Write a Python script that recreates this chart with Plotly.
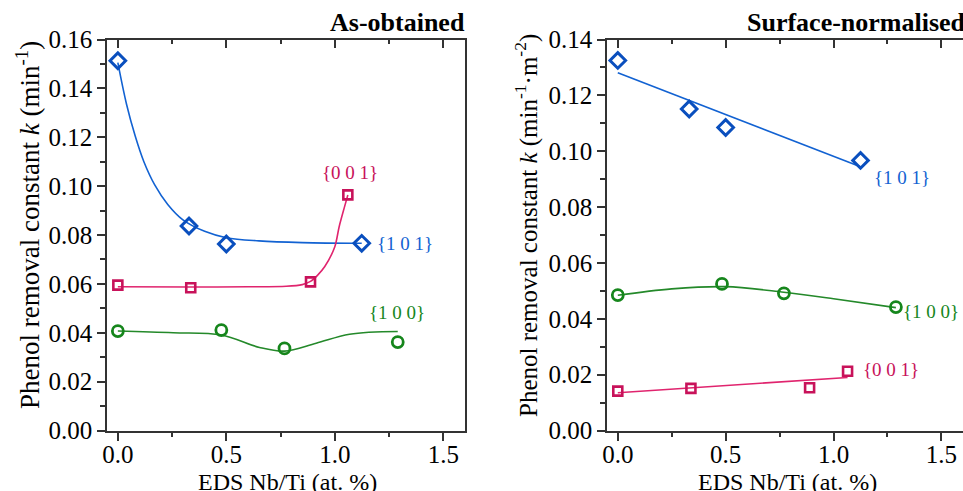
import plotly.graph_objects as go

# ---------------- data ----------------
# As-obtained panel
a101_x = [0.0, 0.328, 0.50, 1.124]
a101_y = [0.1513, 0.0837, 0.0763, 0.0766]
a001_x = [0.0, 0.336, 0.888, 1.06]
a001_y = [0.0595, 0.0584, 0.0608, 0.0964]
a100_x = [0.0, 0.477, 0.768, 1.29]
a100_y = [0.0407, 0.0411, 0.0336, 0.0362]

# fitted curves
a101_fit_x = [0.0, 0.04, 0.08, 0.12, 0.17, 0.23, 0.30, 0.40, 0.50, 0.65, 0.85, 1.124]
a101_fit_y = [0.1505, 0.1335, 0.1205, 0.1100, 0.1005, 0.0925, 0.0862, 0.0815, 0.0789, 0.0776, 0.0769, 0.0766]
a001_fit_x = [0.0, 0.336, 0.60, 0.776, 0.85, 0.888, 0.92, 0.953, 1.0, 1.02, 1.045, 1.06]
a001_fit_y = [0.0588, 0.0587, 0.0588, 0.0590, 0.0597, 0.0610, 0.0635, 0.067, 0.0752, 0.0834, 0.0916, 0.0964]
a100_fit_x = [0.0, 0.255, 0.477, 0.653, 0.768, 0.914, 1.068, 1.29]
a100_fit_y = [0.0407, 0.0400, 0.0391, 0.0340, 0.0325, 0.0357, 0.0394, 0.0405]

# Surface-normalised panel
s101_x = [0.0, 0.331, 0.50, 1.125]
s101_y = [0.1325, 0.1151, 0.1085, 0.0967]
s100_x = [0.0, 0.483, 0.770, 1.289]
s100_y = [0.0485, 0.0525, 0.0491, 0.0442]
s001_x = [0.0, 0.339, 0.889, 1.065]
s001_y = [0.0141, 0.0151, 0.0153, 0.0212]

s101_fit_x = [0.0, 1.125]
s101_fit_y = [0.1281, 0.0944]
s100_fit_x = [0.0, 0.25, 0.5, 0.77, 1.0, 1.289]
s100_fit_y = [0.0484, 0.0507, 0.0515, 0.0495, 0.0472, 0.0440]
s001_fit_x = [0.0, 1.065]
s001_fit_y = [0.0135, 0.0190]

x_ticks = [0.0, 0.5, 1.0, 1.5]
x_tick_text = ["0.0", "0.5", "1.0", "1.5"]
left_y_ticks = [0.00, 0.02, 0.04, 0.06, 0.08, 0.10, 0.12, 0.14, 0.16]
right_y_ticks = [0.00, 0.02, 0.04, 0.06, 0.08, 0.10, 0.12, 0.14]

facet_labels = ["{1 0 1}", "{0 0 1}", "{1 0 0}"]
panel_titles = ["As-obtained", "Surface-normalised"]
x_title = "EDS Nb/Ti (at. %)"
left_y_title = "Phenol removal constant <i>k</i> (min<sup>-1</sup>)"
right_y_title = "Phenol removal constant <i>k</i> (min<sup>-1</sup>·m<sup>-2</sup>)"

# ---------------- styles ----------------
BLUE = "#0A4FBE"
BLUE_L = "#1262D2"
PINK = "#C8125A"
PINK_L = "#E0246E"
GREEN = "#16861C"
GREEN_L = "#24892A"
FONT = "'Liberation Serif', 'Times New Roman', 'DejaVu Serif', serif"
W, H = 963, 491

fig = go.Figure()


def add_series(xs, ys, fx, fy, mcol, lcol, sym, size, lw, xa, ya, smooth=1.0):
    fig.add_trace(go.Scatter(x=fx, y=fy, mode="lines",
                             line=dict(color=lcol, width=1.6, shape="spline" if len(fx) > 2 else "linear",
                                       smoothing=smooth),
                             xaxis=xa, yaxis=ya, showlegend=False, hoverinfo="skip"))
    fig.add_trace(go.Scatter(x=xs, y=ys, mode="markers",
                             marker=dict(symbol=sym, size=size, color="rgba(0,0,0,0)",
                                         line=dict(color=mcol, width=lw)),
                             xaxis=xa, yaxis=ya, showlegend=False))


add_series(a101_x, a101_y, a101_fit_x, a101_fit_y, BLUE, BLUE_L, "diamond", 12, 3, "x", "y")
add_series(a001_x, a001_y, a001_fit_x, a001_fit_y, PINK, PINK_L, "square", 9, 2.6, "x", "y", 0.8)
add_series(a100_x, a100_y, a100_fit_x, a100_fit_y, GREEN, GREEN_L, "circle", 11, 2.8, "x", "y")

add_series(s101_x, s101_y, s101_fit_x, s101_fit_y, BLUE, BLUE_L, "diamond", 12, 3, "x2", "y2")
add_series(s100_x, s100_y, s100_fit_x, s100_fit_y, GREEN, GREEN_L, "circle", 11, 2.8, "x2", "y2")
add_series(s001_x, s001_y, s001_fit_x, s001_fit_y, PINK, PINK_L, "square", 9, 2.6, "x2", "y2")

# ---------------- axes ----------------
ydom = [60.5 / H, 451.5 / H]
xdom1 = [107 / W, 465 / W]
xdom2 = [607 / W, 1.0]
AX = "#333333"
tickfont = dict(family=FONT, size=25, color="black")

common_x = dict(range=[-0.05, 1.6], tickvals=x_ticks, ticktext=x_tick_text, automargin=False,
                ticks="outside", ticklen=9, tickwidth=1.5, tickcolor=AX, ticklabelstandoff=-8,
                showline=True, linecolor=AX, linewidth=1.5, showgrid=False, zeroline=False,
                tickfont=tickfont,
                minor=dict(dtick=0.25, tick0=0, ticks="outside", ticklen=5, tickwidth=1.5, tickcolor=AX))

top_x = dict(range=[-0.05, 1.6], tickvals=x_ticks, ticks="inside", ticklen=9, tickwidth=1.5,
             tickcolor=AX, showticklabels=False, showline=True, linecolor=AX, linewidth=1.5,
             showgrid=False, zeroline=False, side="top", automargin=False,
             minor=dict(dtick=0.25, tick0=0, ticks="inside", ticklen=5, tickwidth=1.5, tickcolor=AX))

common_y = dict(ticks="outside", ticklen=8, tickwidth=1.5, tickcolor=AX, automargin=False,
                showline=True, linecolor=AX, linewidth=1.5, showgrid=False, zeroline=False,
                tickfont=tickfont, tickformat=".2f",
                minor=dict(dtick=0.01, ticks="outside", ticklen=5, tickwidth=1.5, tickcolor=AX))

fig.update_layout(
    width=W, height=H, margin=dict(l=0, r=0, t=0, b=0, autoexpand=False),
    paper_bgcolor="white", plot_bgcolor="white",
    xaxis=dict(domain=xdom1, anchor="y", **common_x),
    yaxis=dict(domain=ydom, anchor="x", range=[0, 0.16], tickvals=left_y_ticks, mirror=True, **common_y),
    xaxis2=dict(domain=xdom2, anchor="y2", **common_x),
    yaxis2=dict(domain=ydom, anchor="x2", range=[0, 0.14], tickvals=right_y_ticks, **common_y),
    xaxis3=dict(overlaying="x", anchor="y", **top_x),
    xaxis4=dict(overlaying="x2", anchor="y2", **top_x),
)
# invisible traces so the top axes render
fig.add_trace(go.Scatter(x=[0], y=[0], xaxis="x3", yaxis="y", mode="markers",
                         marker=dict(opacity=0), showlegend=False, hoverinfo="skip"))
fig.add_trace(go.Scatter(x=[0], y=[0], xaxis="x4", yaxis="y2", mode="markers",
                         marker=dict(opacity=0), showlegend=False, hoverinfo="skip"))


def px_y(py):
    return 1 - py / H


def px_x(px):
    return px / W


annots = []
# panel titles
annots.append(dict(text="<b>" + panel_titles[0] + "</b>", x=px_x(467), y=px_y(23), xref="paper", yref="paper",
                   xanchor="right", yanchor="middle", showarrow=False,
                   font=dict(family=FONT, size=26, color="black")))
annots.append(dict(text="<b>" + panel_titles[1] + "</b>", x=px_x(968), y=px_y(23), xref="paper", yref="paper",
                   xanchor="right", yanchor="middle", showarrow=False,
                   font=dict(family=FONT, size=26, color="black")))
# axis titles
annots.append(dict(text=x_title, x=px_x(287), y=px_y(482), xref="paper", yref="paper",
                   xanchor="center", yanchor="middle", showarrow=False,
                   font=dict(family=FONT, size=24, color="black")))
annots.append(dict(text=x_title, x=px_x(787), y=px_y(482), xref="paper", yref="paper",
                   xanchor="center", yanchor="middle", showarrow=False,
                   font=dict(family=FONT, size=24, color="black")))
annots.append(dict(text=left_y_title, x=px_x(28), y=px_y(225), xref="paper", yref="paper",
                   xanchor="center", yanchor="middle", showarrow=False, textangle=-90,
                   font=dict(family=FONT, size=27, color="black")))
annots.append(dict(text=right_y_title, x=px_x(526), y=px_y(226), xref="paper", yref="paper",
                   xanchor="center", yanchor="middle", showarrow=False, textangle=-90,
                   font=dict(family=FONT, size=25, color="black")))
# facet labels
lab_font = lambda c: dict(family=FONT, size=19, color=c)
for txt, cx, cy, col in [
    (facet_labels[1], 350, 172, PINK),
    (facet_labels[0], 405, 243, BLUE_L),
    (facet_labels[2], 397, 312, GREEN),
    (facet_labels[0], 902, 177, BLUE_L),
    (facet_labels[2], 931, 311, GREEN),
    (facet_labels[1], 891, 369, PINK),
]:
    annots.append(dict(text=txt, x=px_x(cx), y=px_y(cy), xref="paper", yref="paper",
                       xanchor="center", yanchor="middle", showarrow=False, font=lab_font(col)))

fig.update_layout(annotations=annots)

fig.write_html("out.html", config={"displayModeBar": False},
               post_script="document.body.style.margin='0px';document.body.style.overflow='hidden';")
